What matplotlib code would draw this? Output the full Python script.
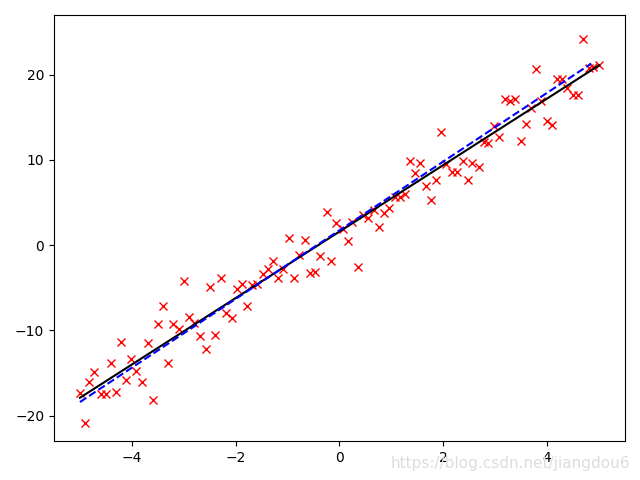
import numpy as np
import matplotlib
matplotlib.use("Agg")
import matplotlib.pyplot as plt

x = [-5.0,-4.91,-4.82,-4.72,-4.6,-4.5,-4.4,-4.31,-4.21,-4.12,-4.02,-3.92,-3.8,-3.69,-3.59,-3.5,-3.4,-3.3,-3.2,-3.09,
     -2.99,-2.89,-2.8,-2.68,-2.58,-2.49,-2.39,-2.29,-2.19,-2.08,-1.98,-1.88,-1.79,-1.69,-1.59,-1.48,-1.38,-1.28,-1.18,-1.09,
     -0.97,-0.87,-0.78,-0.66,-0.56,-0.47,-0.37,-0.25,-0.16,-0.06,0.06,0.16,0.25,0.35,0.45,0.54,0.66,0.76,0.85,0.95,
     1.07,1.17,1.26,1.36,1.46,1.55,1.67,1.77,1.86,1.96,2.06,2.16,2.27,2.37,2.47,2.56,2.68,2.78,2.87,2.97,
     3.07,3.18,3.28,3.38,3.5,3.59,3.69,3.79,3.88,4.0,4.1,4.19,4.29,4.39,4.5,4.6,4.7,4.8,4.89,4.99]
y = [-17.3,-20.9,-16.0,-14.9,-17.4,-17.5,-13.8,-17.2,-11.4,-15.8,-13.4,-14.7,-16.1,-11.5,-18.2,-9.2,-7.1,-13.8,-9.3,-9.8,
     -4.2,-8.4,-9.1,-10.7,-12.2,-4.9,-10.5,-3.8,-7.9,-8.5,-5.1,-4.5,-7.1,-4.7,-4.5,-3.4,-2.8,-1.8,-3.8,-2.8,
     0.8,-3.9,-1.2,0.6,-3.3,-3.1,-1.3,3.9,-1.9,2.6,1.9,0.5,2.7,-2.5,3.5,3.2,4.1,2.1,3.8,4.4,
     5.6,5.6,6.0,9.9,8.5,9.6,6.9,5.3,7.6,13.3,9.5,8.6,8.6,9.9,7.6,9.6,9.2,12.1,12.0,14.0,
     12.7,17.1,16.9,17.1,12.2,14.2,16.1,20.7,16.9,14.6,14.1,19.5,19.5,18.4,17.6,17.6,24.2,20.8,20.9,21.1]

true_x = [-5.0, 5.0]
true_y = [-17.9, 21.1]
fit_x = [-5.0, 4.85]
fit_y = [-18.4, 21.3]

fig, ax = plt.subplots(figsize=(6.4, 4.8), dpi=100)
ax.plot(x, y, 'rx')
ax.plot(true_x, true_y, 'k-')
ax.plot(fit_x, fit_y, 'b--')
ax.set_xlim(-5.5, 5.5)
ax.set_ylim(-23, 27)
fig.tight_layout()
fig.text(0.985, 0.035, "https://blog.csdn.net/jiangdou6", ha='right', va='center', color='#dddddd', fontsize=11)
fig.savefig("out.png")
